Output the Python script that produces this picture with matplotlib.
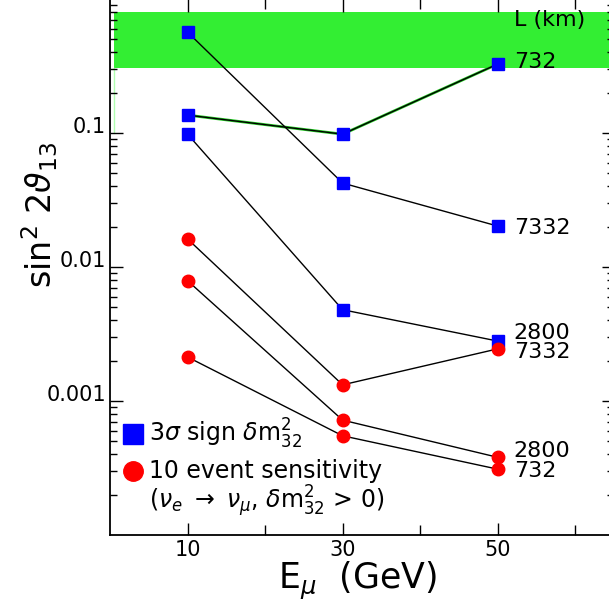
import numpy as np
import matplotlib
matplotlib.use("Agg")
import matplotlib.pyplot as plt

# muon energies (GeV)
energy = [10, 30, 50]

# 3 sigma sign of dm^2_32 (blue squares), one list per baseline
sign_732 = [0.136, 0.098, 0.327]
sign_7332 = [0.566, 0.0423, 0.0202]
sign_2800 = [0.098, 0.0048, 0.0028]

# 10 event sensitivity (red circles)
sens_7332 = [0.0162, 0.00132, 0.00245]
sens_2800 = [0.0079, 0.00072, 0.00038]
sens_732 = [0.00213, 0.00055, 0.00031]

# excluded band
band_low, band_high = 0.305, 0.80

blue_series = [("732", sign_732), ("7332", sign_7332), ("2800", sign_2800)]
red_series = [("7332", sens_7332), ("2800", sens_2800), ("732", sens_732)]
# small vertical nudges (points) so the end labels do not collide
blue_nudge = [1.5, -1.5, 6]
red_nudge = [-2.5, 4.5, -1]

fig = plt.figure(figsize=(6.09, 6.07), dpi=100)
ax = fig.add_axes([110 / 609, 72 / 607, 504 / 609, 536 / 607])

# GREEN BAND
ax.fill_between([0.5, 65], band_low, band_high, color="#33ee33", lw=0, zorder=1)
ax.plot([0.5, 0.5], [0.1, band_low], color="#b0ffb0", lw=1, zorder=1)

# BLUE SQUARES
for i, (name, vals) in enumerate(blue_series):
    if name == "732":
        ax.plot(energy, vals, color="#22cc22", lw=2.0, zorder=2)
    ax.plot(energy, vals, color="black", lw=1, zorder=3)
    ax.plot(energy, vals, ls="none", marker="s", ms=9, mfc="#0000ff",
            mec="#0000ff", zorder=4)
    ax.annotate(name, (energy[-1], vals[-1]), xytext=(11.5, blue_nudge[i]),
                textcoords="offset points", va="center", ha="left",
                fontsize=16)

# RED CIRCLES
for i, (name, vals) in enumerate(red_series):
    ax.plot(energy, vals, color="black", lw=1, zorder=3)
    ax.plot(energy, vals, ls="none", marker="o", ms=9, mfc="#ff0000",
            mec="#ff0000", zorder=4)
    ax.annotate(name, (energy[-1], vals[-1]), xytext=(11.5, red_nudge[i]),
                textcoords="offset points", va="center", ha="left",
                fontsize=16)

ax.annotate("L (km)", (50, 0.70), xytext=(11.5, 0), textcoords="offset points",
            fontsize=16, va="center", ha="left")

# AXES
ax.set_yscale("log")
ax.set_xlim(0, 65)
ax.set_ylim(1e-4, 1)
ax.set_xticks([10, 30, 50])
ax.set_xticks([20, 40, 60], minor=True)
ax.set_yticks([0.001, 0.01, 0.1])
ax.set_yticklabels(["0.001", "0.01", "0.1"])
ax.tick_params(which="both", direction="in", top=True, right=True,
               labelsize=15, width=1)
ax.tick_params(which="major", length=9)
ax.tick_params(which="minor", length=5)
ax.tick_params(axis="x", which="minor", length=7)
ax.tick_params(axis="y", pad=3)
for lbl in ax.get_yticklabels():
    lbl.set_va("baseline")
for s in ax.spines.values():
    s.set_linewidth(1.3)

fig.text(278 / 609, 1 - 581 / 607, r"E$_\mu$  (GeV)", fontsize=25,
         ha="left", va="center")
fig.text(40 / 609, 1 - 215 / 607, r"sin$^2$ 2$\vartheta_{13}$", fontsize=24,
         ha="center", va="center", rotation=90)

# LEGEND (drawn by hand like the original)
y_sq = 10 ** (-4 + (535 - 434) / 134)
y_ci = 10 ** (-4 + (535 - 471) / 134)
y_nu = 10 ** (-4 + (535 - 501) / 134)
ax.plot([3], [y_sq], marker="s", ms=14, mfc="#0000ff", mec="#0000ff",
        ls="none", clip_on=False)
ax.plot([3], [y_ci], marker="o", ms=14, mfc="#ff0000", mec="#ff0000",
        ls="none", clip_on=False)
ax.text(5.0, y_sq, r"3$\sigma$ sign $\delta$m$^2_{32}$", fontsize=17,
        va="center")
ax.text(5.0, y_ci, "10 event sensitivity", fontsize=17, va="center")
ax.text(5.0, y_nu, r"($\nu_e$ $\rightarrow$ $\nu_\mu$, $\delta$m$^2_{32}$ > 0)",
        fontsize=17, va="center")

fig.savefig("out.png", dpi=100)
